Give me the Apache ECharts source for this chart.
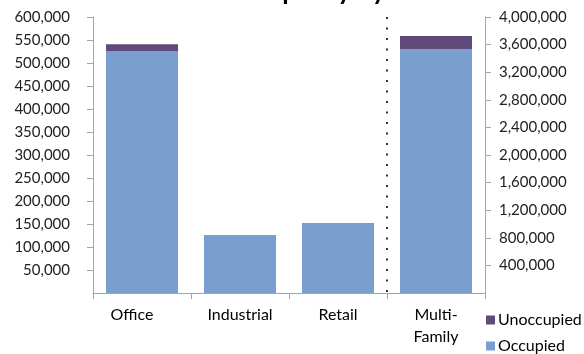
<!DOCTYPE html>
<html>
<head>
<meta charset="utf-8">
<script src="https://cdn.jsdelivr.net/npm/echarts@6/dist/echarts.min.js"></script>
<style>html,body{margin:0;padding:0;background:#fff}#c{width:584px;height:354px}</style>
</head>
<body>
<div id="c"></div>
<script>
const categories = ['Office', 'Industrial', 'Retail', 'Multi-\nFamily'];
// Left axis (sq ft) for Office/Industrial/Retail
const occupiedLeft = [526000, 126000, 152000, null];
const unoccupiedLeft = [15000, 0, 0, null];
// Right axis (units) for Multi-Family
const occupiedRight = [null, null, null, 3536000];
const unoccupiedRight = [null, null, null, 189000];
const leftTicks = {min: 0, max: 600000, interval: 50000};
const rightTicks = {min: 0, max: 4000000, interval: 400000};
const titleText = 'Occupancy by Sector';

const FONT = 'Lato';
const axisColor = '#a6a6a6';
const cOcc = '#7a9fce';
const cUnocc = '#604a7b';
const fmt = v => v.toLocaleString('en-US');
const T = 'rgba(0,0,0,0)';

const chart = echarts.init(document.getElementById('c'));
chart.setOption({
  animation: false,
  title: {
    text: titleText, left: 222, top: -21, padding: 0,
    textStyle: {fontFamily: FONT, fontSize: 26, fontWeight: 'bold', color: '#000'}
  },
  legend: {
    data: ['Unoccupied', 'Occupied'],
    orient: 'vertical', left: 486, top: 312, padding: 0,
    itemWidth: 9, itemHeight: 9, itemGap: 10,
    icon: 'rect',
    textStyle: {fontFamily: FONT, fontSize: 16, color: '#000', lineHeight: 16, padding: [0, 0, 0, -2]}
  },
  grid: {left: 93, right: 99, top: 17, bottom: 61},
  xAxis: {
    type: 'category', data: categories,
    axisLine: {lineStyle: {color: axisColor, width: 1}},
    axisTick: {show: true, length: 6, lineStyle: {color: axisColor}},
    splitLine: {show: true, interval: 0, lineStyle: {color: [T, T, T, '#333', T], type: [2, 8.5], width: 2}},
    axisLabel: {
      fontFamily: FONT, fontSize: 16, color: '#000', lineHeight: 22, margin: 11, interval: 0,
      formatter: (v) => v === 'Office' ? '{o|' + v + '}' : v,
      rich: {o: {fontFamily: FONT, fontSize: 16, color: '#000', lineHeight: 22, padding: [0, 20, 0, 0]}}
    }
  },
  yAxis: [
    {
      type: 'value', min: leftTicks.min, max: leftTicks.max, interval: leftTicks.interval,
      axisLine: {show: true, lineStyle: {color: axisColor}},
      axisTick: {show: true, length: 6, lineStyle: {color: axisColor}},
      splitLine: {show: false},
      axisLabel: {fontFamily: FONT, fontSize: 15, color: '#222', margin: 23, showMinLabel: false, formatter: fmt}
    },
    {
      type: 'value', min: rightTicks.min, max: rightTicks.max, interval: rightTicks.interval,
      axisLine: {show: true, lineStyle: {color: axisColor}},
      axisTick: {show: true, length: 6, lineStyle: {color: axisColor}},
      splitLine: {show: false},
      axisLabel: {fontFamily: FONT, fontSize: 15, color: '#222', margin: 14, showMinLabel: false, formatter: fmt}
    }
  ],
  series: [
    {name: 'Occupied', type: 'bar', stack: 'L', yAxisIndex: 0, data: occupiedLeft, barWidth: 72, barGap: '-100%', itemStyle: {color: cOcc}},
    {name: 'Unoccupied', type: 'bar', stack: 'L', yAxisIndex: 0, data: unoccupiedLeft, barWidth: 72, barGap: '-100%', itemStyle: {color: cUnocc}},
    {name: 'Occupied', type: 'bar', stack: 'R', yAxisIndex: 1, data: occupiedRight, barWidth: 72, barGap: '-100%', itemStyle: {color: cOcc}},
    {name: 'Unoccupied', type: 'bar', stack: 'R', yAxisIndex: 1, data: unoccupiedRight, barWidth: 72, barGap: '-100%', itemStyle: {color: cUnocc}}
  ]
});
</script>
</body>
</html>
